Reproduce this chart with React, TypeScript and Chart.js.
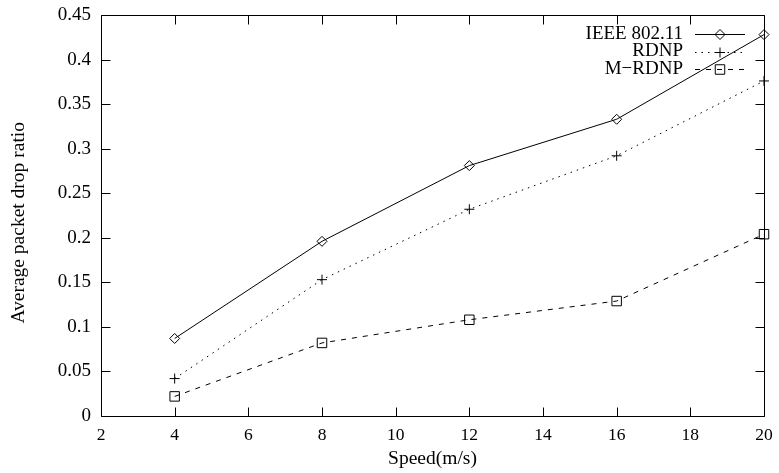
import React, { useEffect, useRef } from 'react';
import { Chart, registerables } from 'chart.js';
import { drawPoint } from 'chart.js/helpers';

Chart.register(...registerables);

// Average packet drop ratio against node speed
const speeds = [4, 8, 12, 16, 20];
const ieee80211 = [0.087, 0.196, 0.281, 0.333, 0.428];
const rdnp = [0.042, 0.153, 0.232, 0.292, 0.376];
const mRdnp = [0.022, 0.082, 0.108, 0.129, 0.204];

const seriesNames = ['IEEE 802.11', 'RDNP', 'M\u2212RDNP'];

const xTicks = [2, 4, 6, 8, 10, 12, 14, 16, 18, 20];
const yTicks = [0, 0.05, 0.1, 0.15, 0.2, 0.25, 0.3, 0.35, 0.4, 0.45];
const yTickLabels = ['0', '0.05', '0.1', '0.15', '0.2', '0.25', '0.3', '0.35', '0.4', '0.45'];

const FONT = "'Liberation Serif', 'Times New Roman', serif";
const TICK_LEN = 9;

Chart.defaults.font.family = FONT;
Chart.defaults.color = '#000';

// Box around the plot with inward ticks on all four sides
const framePlugin = {
  id: 'frame',
  beforeDatasetsDraw(chart: any) {
    const { ctx, chartArea: a, scales } = chart;
    const L = Math.round(a.left) + 0.5;
    const R = Math.round(a.right) + 0.5;
    const T = Math.round(a.top) + 0.5;
    const B = Math.round(a.bottom) + 0.5;
    ctx.save();
    ctx.strokeStyle = '#000';
    ctx.lineWidth = 1;
    ctx.beginPath();
    ctx.rect(L, T, R - L, B - T);
    for (const t of scales.x.ticks) {
      const px = Math.round(scales.x.getPixelForValue(t.value)) + 0.5;
      ctx.moveTo(px, B);
      ctx.lineTo(px, B - TICK_LEN);
      ctx.moveTo(px, T);
      ctx.lineTo(px, T + TICK_LEN);
    }
    for (const t of scales.y.ticks) {
      const py = Math.round(scales.y.getPixelForValue(t.value)) + 0.5;
      ctx.moveTo(L, py);
      ctx.lineTo(L + TICK_LEN, py);
      ctx.moveTo(R, py);
      ctx.lineTo(R - TICK_LEN, py);
    }
    ctx.stroke();
    ctx.restore();
  },
};

// Key in the upper right: right-aligned names followed by a line sample with its marker
const keyPlugin = {
  id: 'key',
  afterDraw(chart: any) {
    const { ctx, chartArea: a } = chart;
    const textRight = a.right - 81;
    const lineStart = a.right - 69;
    const lineEnd = a.right - 19;
    const markX = a.right - 44;
    ctx.save();
    ctx.font = `19px ${FONT}`;
    ctx.fillStyle = '#000';
    ctx.textAlign = 'right';
    ctx.textBaseline = 'middle';
    chart.data.datasets.forEach((ds: any, i: number) => {
      const y = a.top + 19 + i * 17.5;
      ctx.fillText(ds.label, textRight, y);
      ctx.save();
      ctx.strokeStyle = '#000';
      ctx.lineWidth = 1;
      ctx.setLineDash(ds.borderDash || []);
      ctx.beginPath();
      ctx.moveTo(lineStart, Math.round(y) + 0.5);
      ctx.lineTo(lineEnd, Math.round(y) + 0.5);
      ctx.stroke();
      ctx.restore();
      ctx.save();
      ctx.strokeStyle = '#000';
      ctx.fillStyle = 'rgba(0,0,0,0)';
      ctx.lineWidth = 1;
      drawPoint(ctx, { pointStyle: ds.pointStyle, radius: ds.pointRadius, rotation: 0, borderWidth: 1 }, markX, Math.round(y) + 0.5);
      ctx.restore();
    });
    ctx.restore();
  },
};

export default function App() {
  const canvasRef = useRef<HTMLCanvasElement | null>(null);

  useEffect(() => {
    document.body.style.margin = '0';
    const canvas = canvasRef.current;
    if (!canvas) return;

    const common = {
      borderColor: '#000',
      borderWidth: 1,
      pointBorderColor: '#000',
      pointBackgroundColor: 'rgba(0,0,0,0)',
      pointBorderWidth: 1,
      fill: false,
      tension: 0,
      clip: false as any,
    };

    const chart = new Chart(canvas, {
      type: 'line',
      data: {
        datasets: [
          {
            ...common,
            label: seriesNames[0],
            data: speeds.map((s, i) => ({ x: s, y: ieee80211[i] })),
            pointStyle: 'rectRot',
            pointRadius: 5,
            borderDash: [],
          },
          {
            ...common,
            label: seriesNames[1],
            data: speeds.map((s, i) => ({ x: s, y: rdnp[i] })),
            pointStyle: 'cross',
            pointRadius: 5,
            borderDash: [1.5, 5],
          },
          {
            ...common,
            label: seriesNames[2],
            data: speeds.map((s, i) => ({ x: s, y: mRdnp[i] })),
            pointStyle: 'rect',
            pointRadius: 6.7,
            borderDash: [5, 6],
          },
        ],
      },
      options: {
        animation: false,
        responsive: false,
        devicePixelRatio: 1,
        layout: { padding: { left: 0, right: 15, top: 15, bottom: 0 } },
        plugins: {
          legend: { display: false },
          tooltip: { enabled: false },
        },
        scales: {
          x: {
            type: 'linear',
            min: 2,
            max: 20,
            afterBuildTicks: (scale: any) => {
              scale.ticks = xTicks.map((v) => ({ value: v }));
            },
            afterFit: (scale: any) => {
              scale.height = 57;
              scale.paddingLeft = 0;
              scale.paddingRight = 0;
            },
            grid: { display: false, drawTicks: false },
            border: { display: false },
            ticks: {
              padding: 9,
              color: '#000',
              font: { family: FONT, size: 17.5 },
              maxRotation: 0,
              callback: (v: any) => String(v),
            },
            title: {
              display: true,
              text: 'Speed(m/s)',
              color: '#000',
              font: { family: FONT, size: 19.5 },
              padding: { top: 0, bottom: 2 },
            },
          },
          y: {
            type: 'linear',
            min: 0,
            max: 0.45,
            afterBuildTicks: (scale: any) => {
              scale.ticks = yTicks.map((v) => ({ value: v }));
            },
            afterFit: (scale: any) => {
              scale.width = 101;
              scale.paddingTop = 0;
              scale.paddingBottom = 0;
            },
            grid: { display: false, drawTicks: false },
            border: { display: false },
            ticks: {
              padding: 10,
              color: '#000',
              font: { family: FONT, size: 19 },
              callback: (_v: any, i: number) => yTickLabels[i],
            },
            title: {
              display: true,
              // trailing spaces nudge the rotated title a little towards the bottom
              text: 'Average packet drop ratio   ',
              color: '#000',
              font: { family: FONT, size: 19.5 },
              padding: { top: 7, bottom: 0 },
            },
          },
        },
      },
      plugins: [framePlugin, keyPlugin],
    } as any);

    return () => {
      chart.destroy();
    };
  }, []);

  return (
    <div style={{ width: 779, height: 473 }}>
      <canvas ref={canvasRef} width={779} height={473} style={{ display: 'block' }} />
    </div>
  );
}
